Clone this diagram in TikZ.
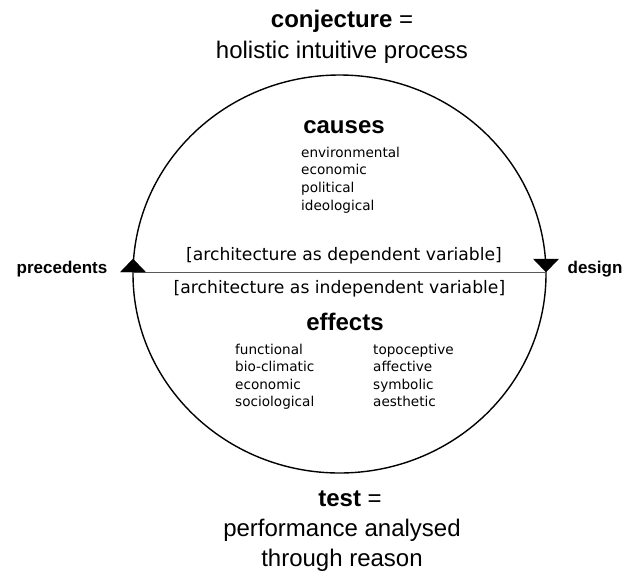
\documentclass[tikz,border=0pt]{standalone}
\usepackage{fontspec}
\setmainfont{Liberation Sans}
\newfontfamily\verd{DejaVu Sans}
\tikzset{
  head/.style={inner sep=0pt, anchor=base, font=\fontsize{24}{29}\selectfont},
  side/.style={inner sep=0pt, anchor=base, font=\fontsize{17}{20}\selectfont\bfseries},
  brack/.style={inner sep=0pt, anchor=base, font=\verd\fontsize{17.2}{20}\selectfont},
  item/.style={inner sep=0pt, anchor=base west, font=\verd\fontsize{13.6}{16}\selectfont},
  ring/.style={draw=black, line width=1.4pt},
  axis/.style={draw=black!65, line width=0.9pt},
  tri/.style={fill=black, draw=black, line width=0.3pt}
}
\begin{document}
\begin{tikzpicture}[x=1pt, y=-1pt]
\useasboundingbox (0,0) rectangle (626,576);
% circle
\draw[ring] (339.5,274) ellipse [x radius=206.5, y radius=199];
\coordinate (L) at (133,272);
\coordinate (R) at (546,272);
\draw[axis] (L) -- (R);
% arrow triangles
\fill[tri] (L) ++(-12.5,0) -- ++(25,0) -- ++(-12.5,-13) -- cycle;
\fill[tri] (R) ++(0,0) -- ++(12.5,-13) -- ++(-25,0) -- cycle;
% top heading
\node[head] (conj) at (342,27.5) {\textbf{conjecture} =};
\node[head] (hol) at (342,58) {holistic intuitive process};
% causes
\node[head] (causes) at (344,133) {\textbf{causes}};
\node[item] (c1) at (301,157.3) {environmental};
\node[item] (c2) at (301,174.9) {economic};
\node[item] (c3) at (301,192.5) {political};
\node[item] (c4) at (301,210.1) {ideological};
% brackets
\node[brack] (dep) at (344,260.5) {[architecture as dependent variable]};
\node[brack] (indep) at (339.5,293.8) {[architecture as independent variable]};
% effects
\node[head] (effects) at (345,330) {\textbf{effects}};
\node[item] (e1) at (235,354.5) {functional};
\node[item] (e2) at (235,371.8) {bio-climatic};
\node[item] (e3) at (235,389.1) {economic};
\node[item] (e4) at (235,406.4) {sociological};
\node[item] (e5) at (373,354.5) {topoceptive};
\node[item] (e6) at (373,371.8) {affective};
\node[item] (e7) at (373,389.1) {symbolic};
\node[item] (e8) at (373,406.4) {aesthetic};
% side labels
\node[side] (prec) at (62,273) {precedents};
\node[side] (design) at (595,273) {design};
% bottom heading
\node[head] (test) at (350,506.5) {\textbf{test} =};
\node[head] (perf) at (342,536) {performance analysed};
\node[head] (reason) at (342,566) {through reason};
\end{tikzpicture}
\end{document}
